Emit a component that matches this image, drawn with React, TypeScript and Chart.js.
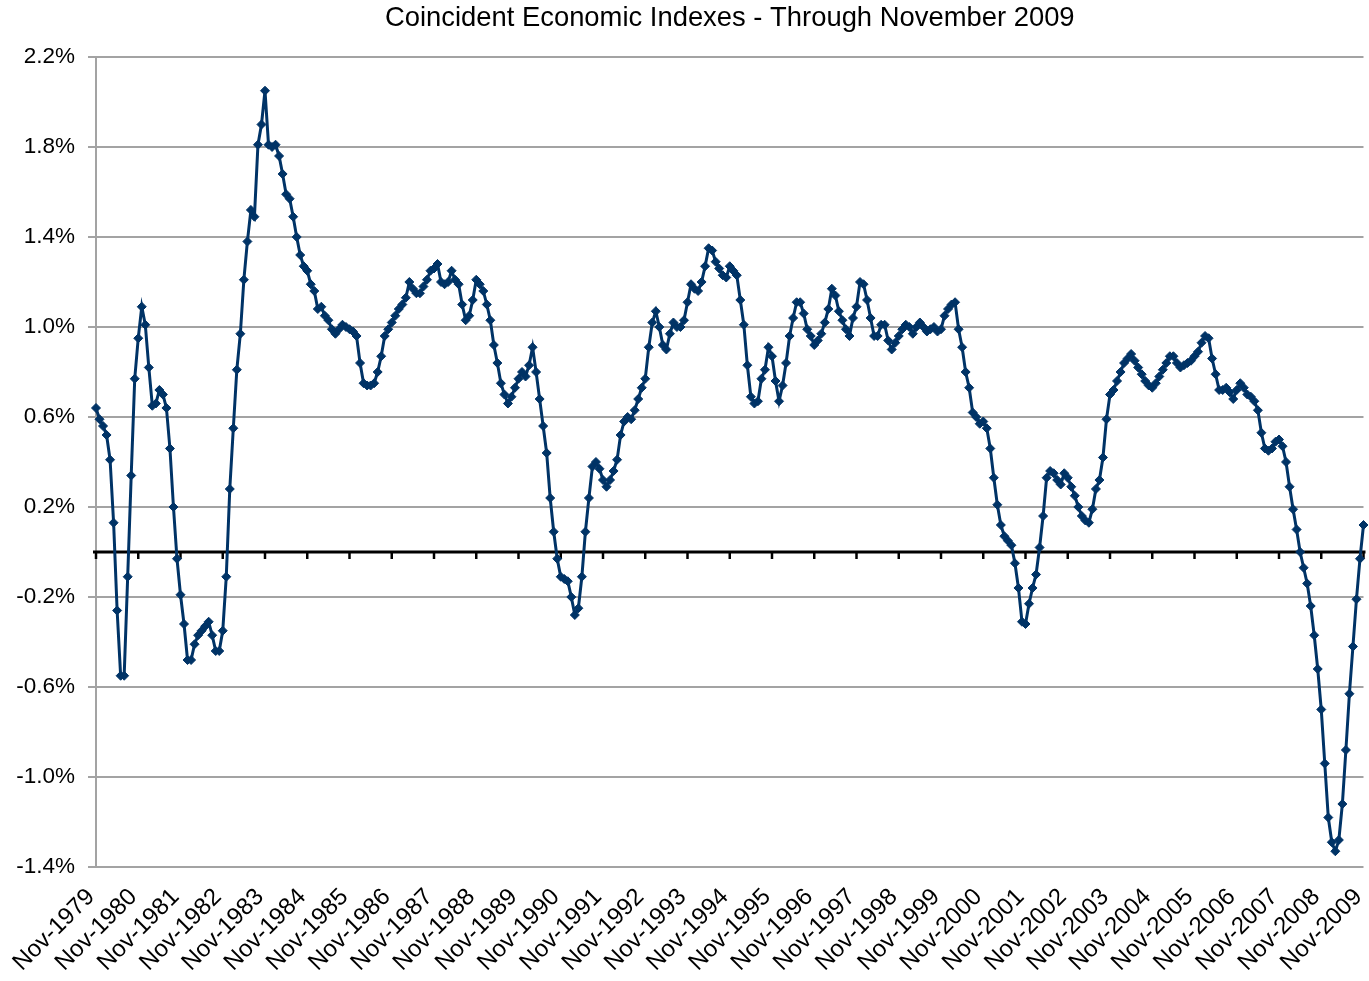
import React, { useEffect, useRef } from 'react';
import { Chart, registerables } from 'chart.js';

Chart.register(...registerables);

const TITLE = 'Coincident Economic Indexes - Through November 2009';
const MONTHS = ['Jan', 'Feb', 'Mar', 'Apr', 'May', 'Jun', 'Jul', 'Aug', 'Sep', 'Oct', 'Nov', 'Dec'];
const FIRST_YEAR = 1979;
const FIRST_MONTH = 10; // November
const LABEL_EVERY = 12;

// Monthly values (%), Nov-1979 .. Oct-1984
const values1979to1984 = [
  0.64, 0.59, 0.56, 0.52, 0.41, 0.13, -0.26, -0.55, -0.55, -0.11,
  0.34, 0.77, 0.95, 1.09, 1.01, 0.82, 0.65, 0.66, 0.72, 0.70,
  0.64, 0.46, 0.20, -0.03, -0.19, -0.32, -0.48, -0.48, -0.41, -0.37,
  -0.35, -0.33, -0.31, -0.37, -0.44, -0.44, -0.35, -0.11, 0.28, 0.55,
  0.81, 0.97, 1.21, 1.38, 1.52, 1.49, 1.81, 1.90, 2.05, 1.81,
  1.80, 1.81, 1.76, 1.68, 1.59, 1.57, 1.49, 1.40, 1.32, 1.27,
];
// Nov-1984 .. Oct-1989
const values1984to1989 = [
  1.25, 1.19, 1.16, 1.08, 1.09, 1.05, 1.03, 0.99, 0.97, 0.99,
  1.01, 1.00, 0.99, 0.98, 0.96, 0.84, 0.75, 0.74, 0.74, 0.75,
  0.80, 0.87, 0.96, 0.99, 1.02, 1.05, 1.08, 1.10, 1.13, 1.20,
  1.17, 1.15, 1.15, 1.18, 1.21, 1.25, 1.26, 1.28, 1.20, 1.19,
  1.20, 1.25, 1.21, 1.19, 1.10, 1.03, 1.05, 1.12, 1.21, 1.19,
  1.16, 1.10, 1.03, 0.92, 0.84, 0.75, 0.70, 0.66, 0.69, 0.73,
];
// Nov-1989 .. Oct-1994
const values1989to1994 = [
  0.77, 0.80, 0.78, 0.83, 0.91, 0.80, 0.68, 0.56, 0.44, 0.24,
  0.09, -0.03, -0.11, -0.12, -0.13, -0.20, -0.28, -0.25, -0.11, 0.09,
  0.24, 0.38, 0.40, 0.37, 0.32, 0.29, 0.32, 0.36, 0.41, 0.52,
  0.58, 0.60, 0.59, 0.63, 0.68, 0.73, 0.77, 0.91, 1.02, 1.07,
  1.00, 0.92, 0.90, 0.97, 1.02, 1.00, 1.00, 1.03, 1.11, 1.19,
  1.17, 1.16, 1.20, 1.27, 1.35, 1.34, 1.29, 1.26, 1.23, 1.22,
];
// Nov-1994 .. Oct-1999
const values1994to1999 = [
  1.27, 1.25, 1.23, 1.12, 1.01, 0.83, 0.69, 0.66, 0.67, 0.77,
  0.81, 0.91, 0.87, 0.76, 0.67, 0.74, 0.84, 0.96, 1.04, 1.11,
  1.11, 1.06, 0.99, 0.96, 0.92, 0.94, 0.97, 1.02, 1.08, 1.17,
  1.14, 1.07, 1.03, 0.99, 0.96, 1.04, 1.09, 1.20, 1.19, 1.12,
  1.04, 0.96, 0.96, 1.01, 1.01, 0.94, 0.90, 0.93, 0.96, 0.99,
  1.01, 1.00, 0.97, 1.00, 1.02, 1.00, 0.98, 0.99, 1.00, 0.98,
];
// Nov-1999 .. Oct-2004
const values1999to2004 = [
  0.99, 1.05, 1.08, 1.10, 1.11, 0.99, 0.91, 0.80, 0.73, 0.62,
  0.60, 0.57, 0.58, 0.55, 0.46, 0.33, 0.21, 0.12, 0.07, 0.05,
  0.03, -0.05, -0.16, -0.31, -0.32, -0.23, -0.16, -0.10, 0.02, 0.16,
  0.33, 0.36, 0.35, 0.32, 0.30, 0.35, 0.33, 0.29, 0.25, 0.20,
  0.16, 0.14, 0.13, 0.19, 0.28, 0.32, 0.42, 0.59, 0.70, 0.72,
  0.76, 0.80, 0.84, 0.86, 0.88, 0.85, 0.82, 0.79, 0.76, 0.74,
];
// Nov-2004 .. Nov-2009
const values2004to2009 = [
  0.73, 0.75, 0.78, 0.81, 0.84, 0.87, 0.87, 0.84, 0.82, 0.83,
  0.84, 0.85, 0.87, 0.89, 0.93, 0.96, 0.95, 0.86, 0.79, 0.72,
  0.72, 0.73, 0.71, 0.68, 0.72, 0.75, 0.73, 0.70, 0.69, 0.67,
  0.63, 0.53, 0.46, 0.45, 0.46, 0.49, 0.50, 0.47, 0.40, 0.29,
  0.19, 0.10, 0.00, -0.07, -0.14, -0.24, -0.37, -0.52, -0.70, -0.94,
  -1.18, -1.29, -1.33, -1.28, -1.12, -0.88, -0.63, -0.42, -0.21, -0.03,
  0.12,
];

const seriesValues = [
  ...values1979to1984,
  ...values1984to1989,
  ...values1989to1994,
  ...values1994to1999,
  ...values1999to2004,
  ...values2004to2009,
];

const categories: string[] = seriesValues.map((_, i) => {
  const m = FIRST_MONTH + i;
  const year = FIRST_YEAR + Math.floor(m / 12);
  return `${MONTHS[m % 12]}-${year}`;
});

const Y_MIN = -1.4;
const Y_MAX = 2.2;
const Y_STEP = 0.4;

const NAVY = '#003366';
const GRID = '#a3a3a3';
const FONT = "'Liberation Sans', Arial, Helvetica, sans-serif";

const zeroLinePlugin = {
  id: 'zeroLine',
  beforeDatasetsDraw(chart: any) {
    const { ctx, chartArea, scales } = chart;
    const y = scales.y.getPixelForValue(0);
    ctx.save();
    ctx.strokeStyle = '#000';
    ctx.lineWidth = 3;
    ctx.beginPath();
    ctx.moveTo(chartArea.left - 3, y);
    ctx.lineTo(chartArea.right + 2, y);
    ctx.stroke();
    ctx.lineWidth = 2.5;
    for (let i = 0; i < categories.length; i += LABEL_EVERY) {
      const x = scales.x.getPixelForValue(i);
      ctx.beginPath();
      ctx.moveTo(x, y);
      ctx.lineTo(x, y + 7);
      ctx.stroke();
    }
    ctx.restore();
  },
};

export default function App() {
  const ref = useRef<HTMLCanvasElement | null>(null);

  useEffect(() => {
    if (!ref.current) return;
    const chart = new Chart(ref.current, {
      type: 'line',
      data: {
        labels: categories,
        datasets: [
          {
            data: seriesValues,
            borderColor: NAVY,
            backgroundColor: NAVY,
            borderWidth: 3,
            pointStyle: 'rectRot',
            pointRadius: 4.5,
            pointBorderWidth: 1,
            pointBackgroundColor: NAVY,
            pointBorderColor: NAVY,
            tension: 0,
            clip: false as any,
          },
        ],
      },
      options: {
        responsive: false,
        maintainAspectRatio: false,
        animation: false,
        layout: { padding: { left: 0, right: 5, top: 0, bottom: 0 } },
        plugins: {
          legend: { display: false },
          tooltip: { enabled: false },
          title: {
            display: true,
            text: TITLE,
            fullSize: false,
            color: '#000',
            font: { family: FONT, size: 27.4, weight: 'normal' as any, lineHeight: 1.2 },
            padding: { top: 2, bottom: 22.1 },
          },
        },
        scales: {
          x: {
            type: 'category',
            offset: false,
            grid: { display: false, drawTicks: false },
            border: { display: false },
            ticks: {
              autoSkip: false,
              minRotation: 45,
              maxRotation: 45,
              color: '#000',
              padding: 16,
              labelOffset: -5,
              font: { family: FONT, size: 24 },
              callback: (_v: any, i: number) => (i % LABEL_EVERY === 0 ? categories[i] : ''),
            },
            afterFit: (s: any) => {
              s.height = 114;
              s.paddingLeft = 0;
              s.paddingRight = 0;
            },
          },
          y: {
            min: Y_MIN,
            max: Y_MAX,
            ticks: {
              stepSize: Y_STEP,
              color: '#000',
              padding: 13,
              font: { family: FONT, size: 22.5 },
              callback: (v: any) => `${Number(v).toFixed(1)}%`,
            },
            grid: { color: GRID, lineWidth: 2, tickLength: 8, drawTicks: true },
            border: { display: true, color: GRID, width: 2 },
            afterFit: (s: any) => {
              s.width = 96;
            },
          },
        },
      },
      plugins: [zeroLinePlugin],
    });
    return () => chart.destroy();
  }, []);

  return (
    <div style={{ position: 'absolute', left: 0, top: 0, width: 1369, height: 981, background: '#fff' }}>
      <canvas ref={ref} width={1369} height={981} style={{ display: 'block', width: 1369, height: 981 }} />
    </div>
  );
}
